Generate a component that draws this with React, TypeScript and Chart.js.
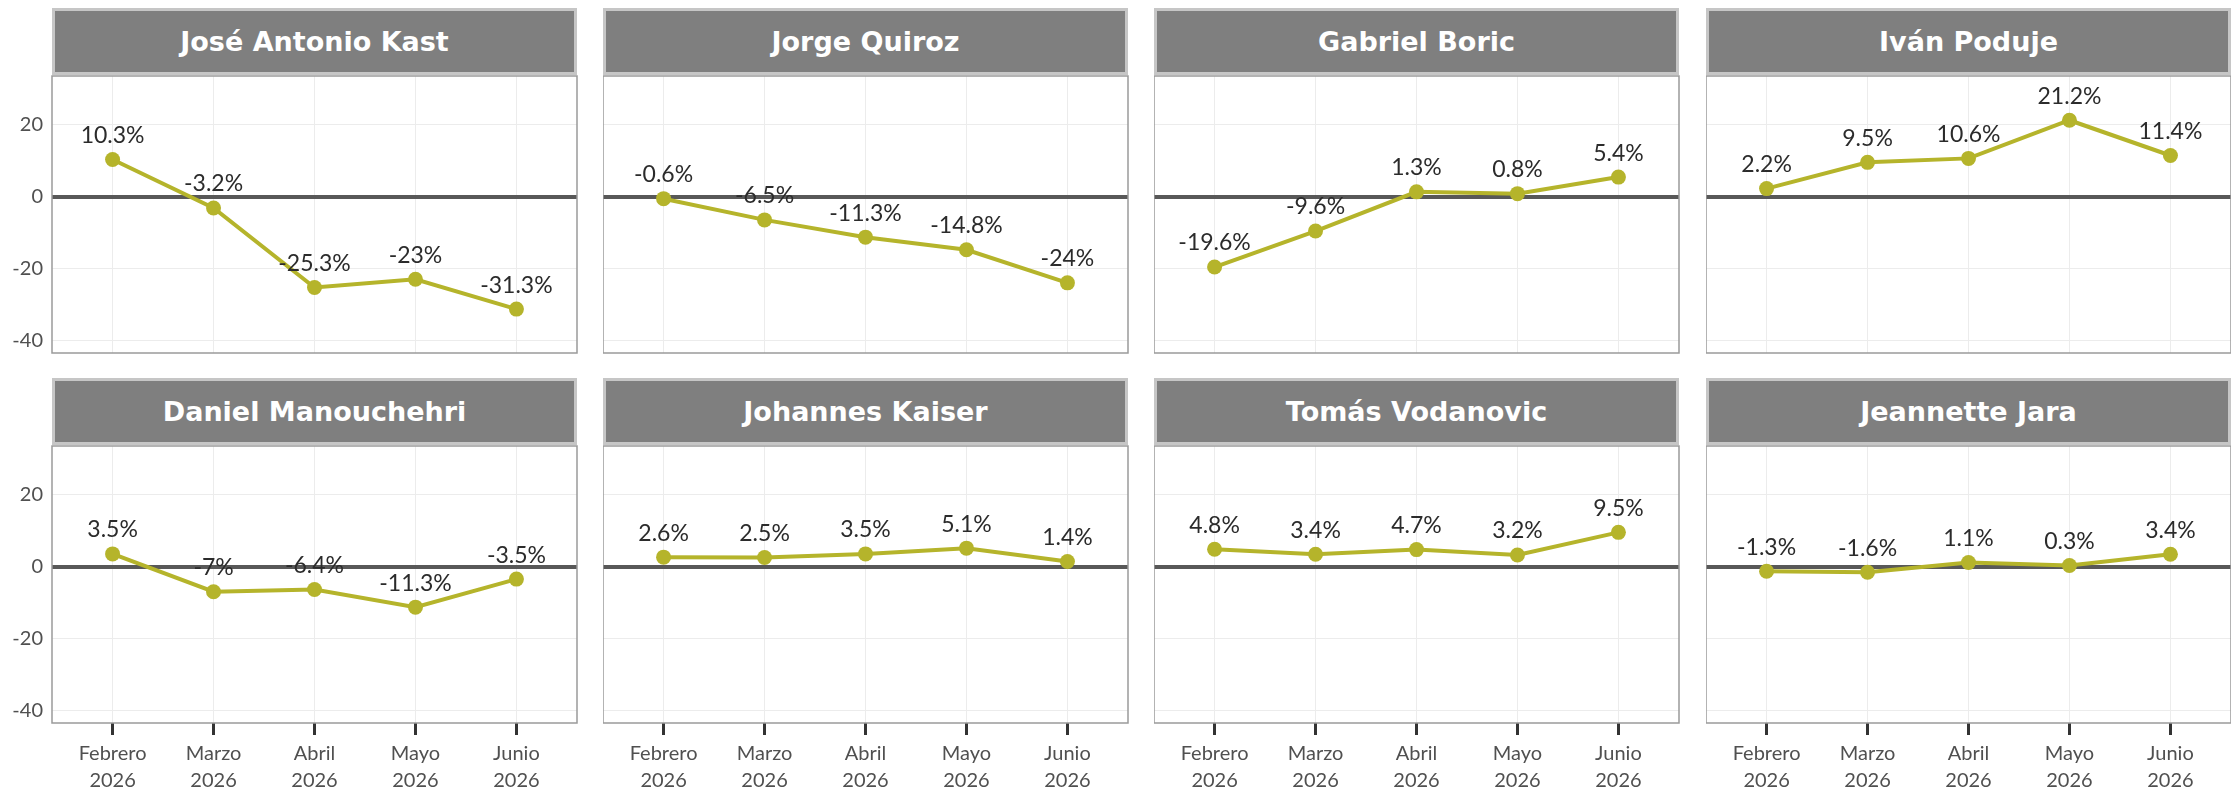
import React, { useEffect, useRef } from "react";
import { Chart, registerables } from "chart.js";

Chart.register(...registerables);

// ---- data ----
const months = ["Febrero", "Marzo", "Abril", "Mayo", "Junio"];
const tickYear = "2026";
const yTicks = [-40, -20, 0, 20];
const yLimits = [-43.5, 33.5];

const candidates = [
  "José Antonio Kast",
  "Jorge Quiroz",
  "Gabriel Boric",
  "Iván Poduje",
  "Daniel Manouchehri",
  "Johannes Kaiser",
  "Tomás Vodanovic",
  "Jeannette Jara",
];

const kast = [10.3, -3.2, -25.3, -23, -31.3];
const quiroz = [-0.6, -6.5, -11.3, -14.8, -24];
const boric = [-19.6, -9.6, 1.3, 0.8, 5.4];
const poduje = [2.2, 9.5, 10.6, 21.2, 11.4];
const manouchehri = [3.5, -7, -6.4, -11.3, -3.5];
const kaiser = [2.6, 2.5, 3.5, 5.1, 1.4];
const vodanovic = [4.8, 3.4, 4.7, 3.2, 9.5];
const jara = [-1.3, -1.6, 1.1, 0.3, 3.4];

const seriesValues = [kast, quiroz, boric, poduje, manouchehri, kaiser, vodanovic, jara];

// ---- style / layout ----
const LINE_COLOR = "#b5b42b";
const FONT = "Lato, 'Open Sans', sans-serif";
const STRIP_FONT = "'DejaVu Sans', Lato, sans-serif";
const colLefts = [52, 603, 1154, 1706];
const panelW = 525;
const stripTops = [8, 378];
const stripH = 67;
const panelTops = [76, 446];
const panelH = 277;
const PAD = 2;

const panelPlugin = {
  id: "panelDeco",
  afterDatasetsDraw(chart: any) {
    const ctx = chart.ctx;
    const meta = chart.getDatasetMeta(0);
    const vals = chart.data.datasets[0].data;
    ctx.save();
    ctx.font = `23px ${FONT}`;
    ctx.fillStyle = "#2b2b2b";
    ctx.textAlign = "center";
    ctx.textBaseline = "middle";
    meta.data.forEach((pt: any, i: number) => {
      ctx.fillText(`${vals[i].y}%`, pt.x, pt.y - 24);
    });
    ctx.restore();
  },
  afterDraw(chart: any) {
    const { ctx, chartArea } = chart;
    ctx.save();
    ctx.strokeStyle = "#9a9a9a";
    ctx.lineWidth = 1.5;
    ctx.strokeRect(
      chartArea.left,
      chartArea.top,
      chartArea.right - chartArea.left,
      chartArea.bottom - chartArea.top
    );
    ctx.restore();
  },
};

function Panel({ idx }: { idx: number }) {
  const ref = useRef<HTMLCanvasElement>(null);
  const col = idx % 4;
  const row = Math.floor(idx / 4);
  const yW = col === 0 ? 52 : 0;
  const xH = row === 1 ? 69 : 0;
  const cw = yW + panelW + PAD;
  const ch = PAD + panelH + xH + (row === 1 ? 0 : PAD);

  useEffect(() => {
    if (!ref.current) return;
    const chart = new Chart(ref.current, {
      type: "line",
      data: {
        datasets: [
          {
            data: seriesValues[idx].map((v, i) => ({ x: i, y: v })),
            borderColor: LINE_COLOR,
            backgroundColor: LINE_COLOR,
            pointBackgroundColor: LINE_COLOR,
            pointBorderWidth: 0,
            pointRadius: 7.5,
            borderWidth: 4,
            tension: 0,
          },
        ],
      },
      options: {
        responsive: false,
        maintainAspectRatio: false,
        animation: false,
        layout: {
          autoPadding: false,
          padding: { top: PAD, right: PAD, left: 0, bottom: row === 1 ? 0 : PAD },
        },
        plugins: { legend: { display: false }, tooltip: { enabled: false }, title: { display: false } },
        scales: {
          x: {
            type: "linear",
            min: -0.6,
            max: 4.6,
            afterBuildTicks: (s: any) => {
              s.ticks = months.map((_, i) => ({ value: i }));
            },
            afterFit: (s: any) => {
              s.height = xH;
              s.paddingLeft = 0;
              s.paddingRight = 0;
              s.paddingTop = 0;
              s.paddingBottom = 0;
            },
            ticks: {
              display: row === 1,
              autoSkip: false,
              maxRotation: 0,
              padding: 5,
              color: "#505050",
              font: { family: FONT, size: 20, lineHeight: 1.35 },
              callback: (v: any) => [months[v], tickYear],
            },
            grid: {
              color: "#ececec",
              lineWidth: 1,
              drawTicks: row === 1,
              tickLength: 12,
              tickColor: "#333333",
              tickWidth: 3,
            },
            border: { display: false },
          },
          y: {
            type: "linear",
            min: yLimits[0],
            max: yLimits[1],
            afterBuildTicks: (s: any) => {
              s.ticks = yTicks.map((v) => ({ value: v }));
            },
            afterFit: (s: any) => {
              s.width = yW;
              s.paddingTop = 0;
              s.paddingBottom = 0;
              s.paddingLeft = 0;
              s.paddingRight = 0;
            },
            ticks: {
              display: col === 0,
              padding: 9,
              color: "#505050",
              font: { family: FONT, size: 20 },
            },
            grid: {
              drawTicks: false,
              color: (c: any) => (c.tick && c.tick.value === 0 ? "#585858" : "#ececec"),
              lineWidth: (c: any) => (c.tick && c.tick.value === 0 ? 4 : 1),
            },
            border: { display: false },
          },
        },
      },
      plugins: [panelPlugin],
    } as any);
    return () => chart.destroy();
  }, [idx]);

  return (
    <canvas
      ref={ref}
      width={cw}
      height={ch}
      style={{
        position: "absolute",
        left: colLefts[col] - yW,
        top: panelTops[row] - PAD,
        width: cw,
        height: ch,
      }}
    />
  );
}

function Strip({ idx }: { idx: number }) {
  const col = idx % 4;
  const row = Math.floor(idx / 4);
  return (
    <div
      style={{
        position: "absolute",
        left: colLefts[col],
        top: stripTops[row],
        width: panelW,
        height: stripH,
        boxSizing: "border-box",
        background: "#7f7f7f",
        border: "3px solid #c6c6c6",
        color: "#ffffff",
        fontFamily: STRIP_FONT,
        fontWeight: 700,
        fontSize: 27,
        display: "flex",
        alignItems: "center",
        justifyContent: "center",
      }}
    >
      {candidates[idx]}
    </div>
  );
}

export default function App() {
  return (
    <div style={{ position: "absolute", left: 0, top: 0, width: 2231, height: 791, background: "#ffffff" }}>
      {candidates.map((_, i) => (
        <React.Fragment key={i}>
          <Strip idx={i} />
          <Panel idx={i} />
        </React.Fragment>
      ))}
    </div>
  );
}
